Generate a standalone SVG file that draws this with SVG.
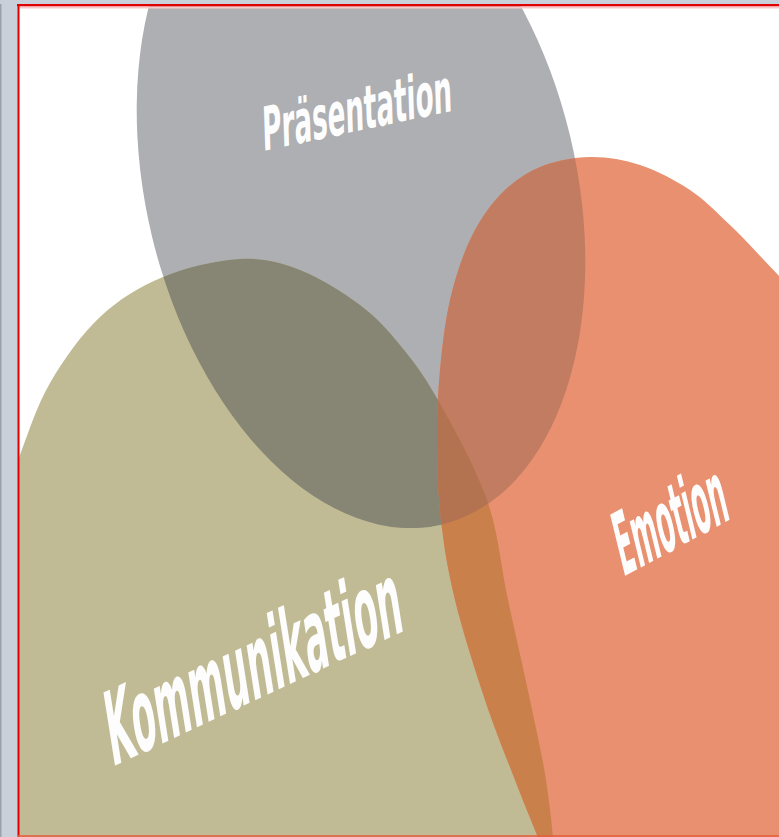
<svg xmlns="http://www.w3.org/2000/svg" xmlns:xlink="http://www.w3.org/1999/xlink" width="779" height="837" viewBox="0 0 779 837">
  <style>
    .label { fill: #fdfdfd; font-family: "DejaVu Sans Condensed", "DejaVu Sans", "Liberation Sans", sans-serif; font-weight: bold; }
  </style>
  <defs>
    <ellipse id="shapeG" cx="361" cy="186" rx="215" ry="348" transform="rotate(-13.5 361 186)"/>
    <path id="shapeO" d="M -20,610 L -5,530 C 1.7,504.2 10.8,479.5 20,455 C 29.2,430.5 36.7,406 50,383 C 63.3,360 81.2,334.7 100,317 C 118.8,299.3 139.7,286.7 163,277 C 186.3,267.3 217.2,260.2 240,259 C 262.8,257.8 280,262.3 300,270 C 320,277.7 343.3,292.5 360,305 C 376.7,317.5 387,329.2 400,345 C 413,360.8 423.5,374.2 438,400 C 452.5,425.8 475.3,466.7 487,500 C 498.7,533.3 500.8,566.7 508,600 C 515.2,633.3 523.7,670 530,700 C 536.3,730 541.8,753.3 546,780 C 550.2,806.7 552.7,833.3 555,860 L 556,900 L -30,900 Z"/>
    <path id="shapeR" d="M 830,345 L 800,300 C 788.7,285.5 773.7,270.5 762,258 C 750.3,245.5 742,236.3 730,225 C 718,213.7 705,200 690,190 C 675,180 656.7,170.5 640,165 C 623.3,159.5 606.7,156.7 590,157 C 573.3,157.3 555,160.7 540,167 C 525,173.3 511.7,182.8 500,195 C 488.3,207.2 478.3,222.5 470,240 C 461.7,257.5 455,278.3 450,300 C 445,321.7 442.2,346.7 440,370 C 437.8,393.3 436.8,415 437,440 C 437.2,465 438,493.3 441,520 C 444,546.7 447.7,570 455,600 C 462.3,630 475,670 485,700 C 495,730 506.3,757.5 515,780 C 523.7,802.5 530.3,818.3 537,835 L 555,880 L 850,900 L 850,345 Z"/>
    <clipPath id="clipG"><use xlink:href="#shapeG"/></clipPath>
    <clipPath id="clipO"><use xlink:href="#shapeO"/></clipPath>
  </defs>

  <rect x="0" y="0" width="779" height="837" fill="#ffffff"/>

  <g id="node-praesentation">
    <use xlink:href="#shapeG" fill="#adafb2"/>
  </g>
  <g id="node-kommunikation">
    <use xlink:href="#shapeO" fill="#c0bb94"/>
  </g>
  <g id="node-emotion">
    <use xlink:href="#shapeR" fill="#e8906f"/>
  </g>

  <g id="overlaps">
    <use xlink:href="#shapeO" fill="#878574" clip-path="url(#clipG)"/>
    <use xlink:href="#shapeR" fill="#c17c62" clip-path="url(#clipG)"/>
    <use xlink:href="#shapeR" fill="#c9804b" clip-path="url(#clipO)"/>
    <g clip-path="url(#clipG)">
      <use xlink:href="#shapeR" fill="#b37351" clip-path="url(#clipO)"/>
    </g>
  </g>

  <g id="labels">
    <text id="label-praesentation" class="label" font-size="29.2" textLength="191" lengthAdjust="spacingAndGlyphs" transform="translate(263,151) rotate(-2) skewY(-10) scale(1,2.07)">Präsentation</text>
    <text id="label-kommunikation" class="label" font-size="39" textLength="311" lengthAdjust="spacingAndGlyphs" transform="translate(112,767) rotate(-9) skewY(-16) scale(1,2.6)">Kommunikation</text>
    <text id="label-emotion" class="label" font-size="28.5" textLength="119" lengthAdjust="spacingAndGlyphs" transform="translate(623,577) rotate(-13.7) skewY(-14.6) scale(1,3.03)">Emotion</text>
  </g>

  <g id="frame">
    <rect x="0" y="0" width="18" height="837" fill="#c9d0da"/>
    <rect x="0" y="0" width="1.5" height="837" fill="#98a2ae"/>
    <rect x="0" y="0" width="779" height="4" fill="#c9d0da"/>
    <rect x="17" y="4" width="762" height="2.5" fill="#e00000"/>
    <rect x="17" y="6.5" width="762" height="2" fill="#f8c8c8"/>
    <rect x="17.5" y="4" width="2" height="833" fill="#e00000"/>
    <rect x="18" y="835" width="761" height="2" fill="#e4603c" opacity="0.8"/>
  </g>
</svg>
